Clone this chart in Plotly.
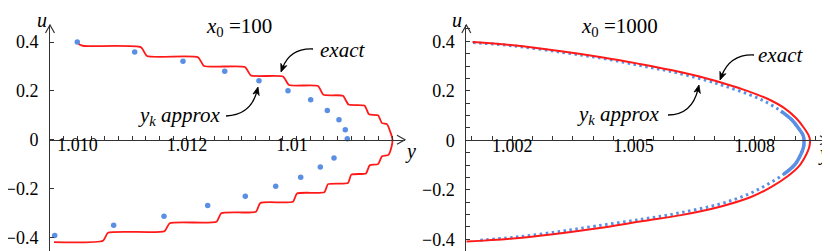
import plotly.graph_objects as go

# ---------------- data ----------------
# left panel, x0 = 100 : exact curve (corner points of the staircase)
left_exact_y = [1.009982, 1.010037, 1.010119, 1.011160, 1.011269, 1.012201, 1.012311, 1.013059,
                1.013169, 1.013754, 1.013863, 1.014393, 1.014493, 1.014849, 1.014950, 1.015242,
                1.015324, 1.015489, 1.015562, 1.015653, 1.015717, 1.015753,
                1.015735, 1.015680, 1.015562, 1.015489, 1.015337, 1.015269, 1.015001, 1.014941,
                1.014575, 1.014511, 1.014009, 1.013936, 1.013339, 1.013260, 1.012626, 1.012539,
                1.011684, 1.011589, 1.010557, 1.010466, 1.009571]
left_exact_u = [0.404, 0.390, 0.384, 0.379, 0.343, 0.338, 0.302, 0.298,
                0.263, 0.259, 0.224, 0.220, 0.184, 0.180, 0.144, 0.140,
                0.104, 0.100, 0.068, 0.064, 0.030, 0.0,
                -0.030, -0.062, -0.068, -0.100, -0.105, -0.138, -0.143, -0.177,
                -0.182, -0.215, -0.220, -0.254, -0.259, -0.295, -0.301, -0.336,
                -0.342, -0.375, -0.381, -0.414, -0.420]
# left panel: y_k approximations
left_approx_y = [1.009996, 1.011045, 1.011927, 1.012689, 1.013315, 1.013845, 1.014259, 1.014563,
                 1.014776, 1.014891, 1.014928, 1.014685, 1.014435, 1.014077, 1.013620, 1.013065,
                 1.012378, 1.011580, 1.010661, 1.009584]
left_approx_u = [0.400, 0.359, 0.321, 0.280, 0.242, 0.201, 0.164, 0.120,
                 0.082, 0.041, 0.004, -0.075, -0.112, -0.154, -0.191, -0.232,
                 -0.270, -0.314, -0.351, -0.392]

# right panel, x0 = 1000
right_exact_y = [1.001015, 1.002017, 1.003255, 1.004245, 1.005111, 1.005928, 1.006770, 1.007265,
                 1.007834, 1.008329, 1.008725, 1.009022, 1.009220, 1.009332, 1.009369, 1.009344,
                 1.009257, 1.009097, 1.008824, 1.008403, 1.007908, 1.007166, 1.006176, 1.005235,
                 1.004072, 1.003007, 1.002017, 1.000861]
right_exact_u = [0.397, 0.384, 0.359, 0.335, 0.310, 0.284, 0.252, 0.229,
                 0.199, 0.167, 0.131, 0.090, 0.050, 0.021, 0.0, -0.031,
                 -0.063, -0.104, -0.144, -0.189, -0.229, -0.267, -0.302, -0.326,
                 -0.356, -0.379, -0.396, -0.409]
right_approx_y = [1.001027, 1.002017, 1.003255, 1.004245, 1.005111, 1.005928, 1.006770, 1.007265,
                  1.007834, 1.008280, 1.008651, 1.008923, 1.009097, 1.009196, 1.009220, 1.009208,
                  1.009146, 1.008998, 1.008725, 1.008304, 1.007834, 1.007166, 1.006176, 1.005235,
                  1.004072, 1.003007, 1.002017, 1.001151]
right_approx_u = [0.395, 0.382, 0.355, 0.331, 0.304, 0.278, 0.244, 0.219,
                  0.187, 0.155, 0.118, 0.082, 0.046, 0.021, 0.001, -0.027,
                  -0.055, -0.097, -0.136, -0.179, -0.218, -0.256, -0.292, -0.318,
                  -0.346, -0.372, -0.392, -0.404]

left_tickvals = [1.010, 1.012, 1.014]
left_ticktext = ["1.010", "1.012", "1.01<span style='color:rgba(0,0,0,0)'>4</span>"]
right_tickvals = [1.002, 1.005, 1.008]
right_ticktext = ["1.002", "1.005", "1.008"]
u_tickvals = [-0.4, -0.2, 0, 0.2, 0.4]
u_ticktext = ["\u22120.4", "\u22120.2", "0", "0.2", "0.4"]

# ---------------- styling / layout ----------------
W, H = 830, 251
RED = "#ff1a1a"
BLUE = "#5b8fe3"
AX = "#333333"
FONT = "Liberation Serif"

def px(x):
    return x / W

def py(y):
    return 1 - y / H

L_dom = [px(42), px(397)]
R_dom = [px(458.3), px(820)]
Y_dom = [py(243), py(17)]
L_xr = [1.009498, 1.015982]
L_yr = [-0.456, 0.470]
R_xr = [1.000861, 1.009814]
R_yr = [-0.447, 0.466]

def zero_pos(yr):
    return Y_dom[0] + (0 - yr[0]) / (yr[1] - yr[0]) * (Y_dom[1] - Y_dom[0])

fig = go.Figure()

fig.add_trace(go.Scatter(x=left_exact_y, y=left_exact_u, mode="lines",
                         line=dict(color=RED, width=1.8, shape="spline", smoothing=0.5),
                         xaxis="x", yaxis="y", showlegend=False))
fig.add_trace(go.Scatter(x=left_approx_y, y=left_approx_u, mode="markers",
                         marker=dict(color=BLUE, size=5.5),
                         xaxis="x", yaxis="y", showlegend=False))

fig.add_trace(go.Scatter(x=right_approx_y, y=right_approx_u, mode="lines",
                         line=dict(color=BLUE, width=3, dash="2.5px,3.5px", shape="spline"),
                         xaxis="x2", yaxis="y2", showlegend=False))
core = [(a, b) for a, b in zip(right_approx_y, right_approx_u) if abs(b) < 0.14]
fig.add_trace(go.Scatter(x=[c[0] for c in core], y=[c[1] for c in core], mode="lines",
                         line=dict(color=BLUE, width=3.5, shape="spline"),
                         xaxis="x2", yaxis="y2", showlegend=False))
fig.add_trace(go.Scatter(x=right_exact_y, y=right_exact_u, mode="lines",
                         line=dict(color=RED, width=2, shape="spline", smoothing=1),
                         xaxis="x2", yaxis="y2", showlegend=False))

tickfont = dict(family=FONT, size=18, color="black")

def xaxis_cfg(dom, rng, yr, tv, tt, minor_dt):
    return dict(domain=dom, range=rng, anchor="free", position=zero_pos(yr), automargin=False,
                showline=True, linecolor=AX, linewidth=1, showgrid=False, zeroline=False,
                ticks="inside", ticklen=4, tickcolor=AX, tickwidth=1,
                tickmode="array", tickvals=tv, ticktext=tt, tickfont=tickfont,
                ticklabelstandoff=-11,
                minor=dict(dtick=minor_dt, tick0=1.0, ticks="inside", ticklen=4,
                           tickcolor=AX, showgrid=False))

def yaxis_cfg(anchor, rng, minor):
    d = dict(domain=Y_dom, range=rng, anchor=anchor, automargin=False,
             showline=True, linecolor=AX, linewidth=1, showgrid=False, zeroline=False,
             ticks="inside", ticklen=4, tickcolor=AX, tickwidth=1,
             tickmode="array", tickvals=u_tickvals, ticktext=u_ticktext, tickfont=tickfont,
             ticklabelstandoff=7)
    if minor:
        d["minor"] = dict(dtick=0.05, tick0=0, ticks="inside", ticklen=4,
                          tickcolor=AX, showgrid=False)
    return d

fig.update_layout(
    width=W, height=H, margin=dict(l=0, r=0, t=0, b=0, autoexpand=False),
    paper_bgcolor="white", plot_bgcolor="white",
    font=dict(family=FONT, color="black"),
    xaxis=xaxis_cfg(L_dom, L_xr, L_yr, left_tickvals, left_ticktext, 0.00025),
    yaxis=yaxis_cfg("x", L_yr, False),
    xaxis2=xaxis_cfg(R_dom, R_xr, R_yr, right_tickvals, right_ticktext, 0.0005),
    yaxis2=yaxis_cfg("x2", R_yr, True),
)

shapes = []
# axis arrowheads (open chevrons)
for dom, yr in ((L_dom, L_yr), (R_dom, R_yr)):
    shapes.append(dict(type="path", xref="paper", yref="paper", xsizemode="pixel", ysizemode="pixel",
                       xanchor=dom[1], yanchor=zero_pos(yr), path="M-8,-4.5 L0,0 L-8,4.5",
                       line=dict(color=AX, width=1.2)))
    shapes.append(dict(type="path", xref="paper", yref="paper", xsizemode="pixel", ysizemode="pixel",
                       xanchor=dom[0], yanchor=Y_dom[1], path="M-4.5,-8 L0,0 L4.5,-8",
                       line=dict(color=AX, width=1.2)))

# curved pointer arrows (start, control, tip) in pixels
curves = [((305, 41), (282, 40), (273, 64)),
          ((218, 108), (243, 107), (250, 79)),
          ((746, 47), (722, 46), (712, 72)),
          ((660, 107), (684, 107), (691, 77))]
for p0, c, p2 in curves:
    dx, dy = p2[0] - c[0], p2[1] - c[1]
    n = (dx * dx + dy * dy) ** 0.5
    ux, uy = dx / n, dy / n
    e = (p2[0] - ux * 4, p2[1] - uy * 4)
    shapes.append(dict(type="path", xref="paper", yref="paper",
                       path=f"M {px(p0[0])},{py(p0[1])} Q {px(c[0])},{py(c[1])} {px(e[0])},{py(e[1])}",
                       line=dict(color="black", width=1.3)))
    L, Wd = 8.0, 3.2
    bx, by = -ux * L, uy * L
    nx, ny = -uy, -ux
    mx, my = -ux * L * 0.7, uy * L * 0.7
    head = (f"M0,0 L{bx + nx * Wd:.2f},{by + ny * Wd:.2f} L{mx:.2f},{my:.2f} "
            f"L{bx - nx * Wd:.2f},{by - ny * Wd:.2f} Z")
    shapes.append(dict(type="path", xref="paper", yref="paper", xsizemode="pixel", ysizemode="pixel",
                       xanchor=px(p2[0]), yanchor=py(p2[1]), path=head,
                       fillcolor="black", line=dict(color="black", width=0.8)))

def txt(x, y, s, size=21):
    return dict(xref="paper", yref="paper", x=px(x), y=py(y), text=s, showarrow=False,
                font=dict(family=FONT, size=size, color="black"), xanchor="center", yanchor="middle")

ann = [
    txt(231, 19, "<i>x</i><sub>0</sub> =100"),
    txt(611, 19, "<i>x</i><sub>0</sub> =1000"),
    txt(334, 42, "<i>exact</i>"),
    txt(171, 108, "<i>y<sub>k</sub> approx</i>"),
    txt(772, 47, "<i>exact</i>"),
    txt(610, 107, "<i>y<sub>k</sub> approx</i>"),
    txt(34, 12, "<i>u</i>", 20),
    txt(449, 12, "<i>u</i>", 20),
    txt(402, 143, "<i>y</i>", 20),
    txt(815, 145, "<i>y</i>", 20),
]

fig.update_layout(shapes=shapes, annotations=ann)
fig.write_html("out.html")
